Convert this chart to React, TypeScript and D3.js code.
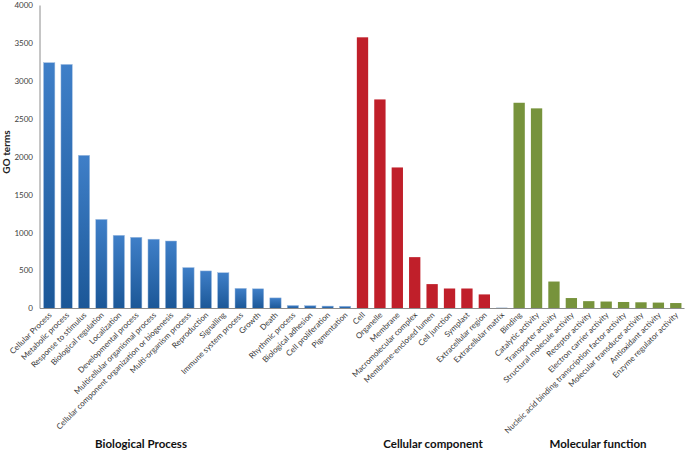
import React from "react";
import * as d3 from "d3";

const bioCategories = [
  "Cellular Process", "Metabolic process", "Response to stimulus", "Biological regulation",
  "Localization", "Developmental process", "Multicellular organismal process",
  "Cellular component organization or biogenesis", "Multi-organism process", "Reproduction",
  "Signalling", "Immune system process", "Growth", "Death", "Rhythmic process",
  "Biological adhesion", "Cell proliferation", "Pigmentation",
];
const bioValues = [3245, 3222, 2022, 1176, 966, 940, 915, 891, 540, 496, 472, 266, 260, 140, 40, 37, 32, 30];

const cellCategories = [
  "Cell", "Organelle", "Membrane", "Macromolecular complex", "Membrane-enclosed lumen",
  "Cell junction", "Symplast", "Extracellular region", "Extracellular matrix",
];
const cellValues = [3580, 2760, 1862, 678, 322, 264, 264, 186, 12];

const molCategories = [
  "Binding", "Catalytic activity", "Transporter activity", "Structural molecule activity",
  "Receptor activity", "Electron carrier activity", "Nucleic acid binding transcription factor activity",
  "Molecular transducer activity", "Antioxidant activity", "Enzyme regulator activity",
];
const molValues = [2716, 2642, 356, 138, 97, 92, 86, 82, 78, 72];

const yTicks = [0, 500, 1000, 1500, 2000, 2500, 3000, 3500, 4000];
const groupTitles = ["Biological Process", "Cellular component", "Molecular function"];

type Row = { name: string; value: number; group: number };
const rows: Row[] = [
  ...bioCategories.map((name, i) => ({ name, value: bioValues[i], group: 0 })),
  ...cellCategories.map((name, i) => ({ name, value: cellValues[i], group: 1 })),
  ...molCategories.map((name, i) => ({ name, value: molValues[i], group: 2 })),
];

const W = 689;
const H = 453;
const x0 = 40.5;
const x1 = 684.5;
const yBase = 308.5;
const yTop = 5.5;

const x = d3.scaleBand<string>().domain(rows.map((r) => r.name)).range([x0, x1]).paddingInner(0.35).paddingOuter(0.175);
const y = d3.scaleLinear().domain([0, 4000]).range([yBase, yTop]);

const groupCenters = [141, 433, 598];

const fillFor = (r: Row) => {
  if (r.name === "Extracellular matrix") return "#8eaacb";
  if (r.group === 0) return "url(#blueGrad)";
  if (r.group === 1) return "#c01f2a";
  return "#77933c";
};

export default function App() {
  const font = "Lato, 'Open Sans', sans-serif";
  return (
    <svg width={W} height={H} style={{ position: "absolute", left: 0, top: 0, background: "#fff" }} fontFamily={font}>
      <defs>
        <linearGradient id="blueGrad" x1="0" y1="0" x2="0" y2="1">
          <stop offset="0%" stopColor="#3f7fc8" />
          <stop offset="100%" stopColor="#1b5797" />
        </linearGradient>
      </defs>
      {rows.map((r) => (
        <rect
          key={r.name}
          x={x(r.name)}
          y={y(r.value)}
          width={x.bandwidth()}
          height={yBase - y(r.value)}
          fill={fillFor(r)}
          stroke={r.group === 0 ? "#9dbbe0" : "none"}
          strokeWidth={0.5}
        />
      ))}
      <line x1={x0 - 0.5} x2={x0 - 0.5} y1={yTop} y2={yBase} stroke="#8c8c8c" strokeWidth={1} />
      <line x1={x0 - 0.5} x2={x1} y1={yBase} y2={yBase} stroke="#8c8c8c" strokeWidth={1} />
      {yTicks.map((t) => (
        <text key={t} x={33} y={y(t)} dy="0.35em" textAnchor="end" fontSize={8} fill="#404040">
          {t}
        </text>
      ))}
      {rows.map((r) => {
        const cx = (x(r.name) as number) + x.bandwidth() / 2 + 3;
        const cy = yBase + 7;
        return (
          <text
            key={"l" + r.name}
            transform={`translate(${cx},${cy}) rotate(-45)`}
            textAnchor="end"
            fontSize={8}
            fill="#3a3a3a"
          >
            {r.name}
          </text>
        );
      })}
      <text transform={`translate(10,152) rotate(-90)`} textAnchor="middle" fontSize={10} fontWeight="bold" fill="#222">
        GO terms
      </text>
      {groupTitles.map((g, i) => (
        <text key={g} x={groupCenters[i]} y={448} textAnchor="middle" fontSize={11.5} fontWeight="bold" fill="#111">
          {g}
        </text>
      ))}
    </svg>
  );
}
